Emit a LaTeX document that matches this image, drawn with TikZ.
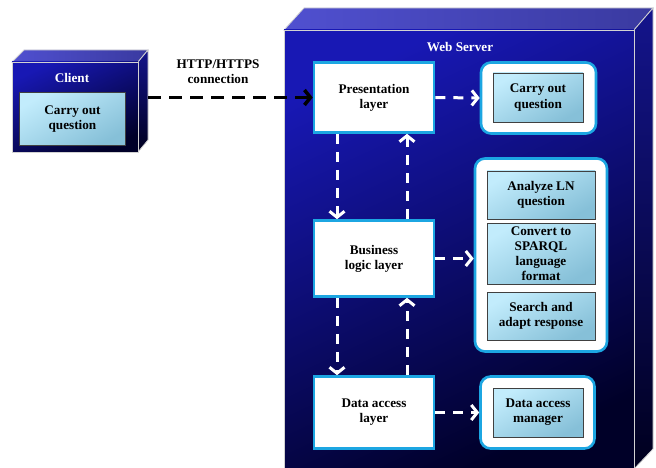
\documentclass[tikz,border=0pt]{standalone}
\usepackage{fontspec}
\setmainfont{Liberation Serif}
\usetikzlibrary{arrows.meta,calc}
\definecolor{cyanb}{HTML}{1CA6E2}
\definecolor{lbA}{HTML}{C2ECFC}
\definecolor{lbB}{HTML}{86C0D8}
\definecolor{frA}{HTML}{1818B4}
\definecolor{frB}{HTML}{000028}
\definecolor{topA}{HTML}{5050D0}
\definecolor{topB}{HTML}{3A3AA0}
\definecolor{sdA}{HTML}{14148C}
\definecolor{sdB}{HTML}{00001E}
\tikzset{
  txt/.style={font=\bfseries\fontsize{13.2}{15.2}\selectfont, align=center},
  layerbox/.style={txt, draw=cyanb, line width=2.6pt, fill=white, inner sep=0pt},
  roundbox/.style={draw=cyanb, line width=2.6pt, fill=white, rounded corners=10pt, inner sep=0pt},
  bluebox/.style={txt, draw=black!75, line width=0.8pt, inner sep=0pt,
     top color=lbA, bottom color=lbB, shading angle=30},
  wdash/.style={draw=white, line width=3pt, dash pattern=on 10pt off 8pt,
     -{Straight Barb[length=6pt,width=15pt,line width=3pt]}},
  bdash/.style={draw=black, line width=3.5pt, dash pattern=on 13pt off 8pt,
     -{Straight Barb[length=6pt,width=15pt,line width=3.5pt]}},
  front/.style={draw=gray!35, line width=0.8pt, top color=frA, bottom color=frB, shading angle=25},
  topface/.style={draw=gray!35, line width=0.8pt, left color=topA, right color=topB},
  sideface/.style={draw=gray!35, line width=0.8pt, top color=sdA, bottom color=sdB},
}
\begin{document}
\begin{tikzpicture}[x=1pt,y=-1pt]
\useasboundingbox (0,0) rectangle (656,468);
% client 3D box
\path[topface] (12,62) -- (24,50) -- (148,50) -- (138,62) -- cycle;
\path[sideface] (138,62) -- (148,50) -- (148,140) -- (138,152) -- cycle;
\path[front] (12,62) rectangle (138,152);
\node[txt, text=white] (clientt) at (72,78) {Client};
\node[bluebox, minimum width=106pt, minimum height=53pt] (cq) at (72.5,119) {Carry out\\question};
% server 3D box
\path[topface] (284,30) -- (304,8) -- (653,8) -- (634,30) -- cycle;
\path[sideface] (634,30) -- (653,8) -- (653,449) -- (634,469) -- cycle;
\path[front] (284,30) rectangle (634,470);
\node[txt, text=white] (srvt) at (460,47) {Web Server};
% layers
\node[layerbox, minimum width=120pt, minimum height=70pt] (pres) at (374,97.5) {Presentation\\layer};
\node[layerbox, minimum width=120pt, minimum height=76pt] (bus) at (374,258.5) {Business\\logic layer};
\node[layerbox, minimum width=120pt, minimum height=72pt] (data) at (374,412.5) {Data access\\layer};
% right boxes
\node[roundbox, minimum width=115pt, minimum height=71pt] (co) at (538.5,98) {};
\node[bluebox, minimum width=90pt, minimum height=49pt] (coi) at (538,97.5) {Carry out\\question};
\node[roundbox, minimum width=132pt, minimum height=193pt] (big) at (541,255) {};
\node[bluebox, minimum width=108pt, minimum height=48pt] (an) at (541,195) {Analyze LN\\question};
\node[bluebox, minimum width=108pt, minimum height=61pt] (cv) at (541,253.5) {Convert to\\SPARQL\\language\\format};
\node[bluebox, minimum width=108pt, minimum height=48pt] (se) at (541,316) {Search and\\adapt response};
\node[roundbox, minimum width=114pt, minimum height=72pt] (dm) at (537.5,412.5) {};
\node[bluebox, minimum width=90pt, minimum height=49pt] (dmi) at (538,412.5) {Data access\\manager};
% HTTP
\coordinate (cliR) at (148,97.5);
\draw[bdash] (cliR) -- (pres.west);
\node[txt] (http) at (218,71.5) {HTTP/HTTPS\\connection};
% white connectors
\draw[wdash] (pres.east) -- (co.west);
\draw[wdash] (bus.east) -- (big.west |- bus.east);
\draw[wdash] (data.east) -- (dm.west);
\draw[wdash] ($(pres.south)+(-37,0)$) -- ($(bus.north)+(-37,0)$);
\draw[wdash] ($(bus.north)+(33,0)$) -- ($(pres.south)+(33,0)$);
\draw[wdash] ($(bus.south)+(-37,0)$) -- ($(data.north)+(-37,0)$);
\draw[wdash] ($(data.north)+(33,0)$) -- ($(bus.south)+(33,0)$);
\end{tikzpicture}
\end{document}
